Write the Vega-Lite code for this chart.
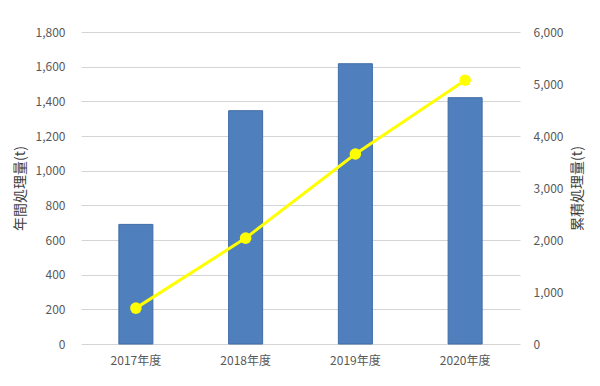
{
  "$schema": "https://vega.github.io/schema/vega-lite/v6.json",
  "autosize": {"type": "none"},
  "width": 439,
  "height": 312,
  "padding": {"left": 81, "top": 32, "right": 80, "bottom": 42},
  "background": "white",
  "data": {
    "values": [
      {"year": "2017年度", "annual": 690, "cumulative": 690},
      {"year": "2018年度", "annual": 1346, "cumulative": 2036},
      {"year": "2019年度", "annual": 1617, "cumulative": 3653},
      {"year": "2020年度", "annual": 1421, "cumulative": 5074}
    ]
  },
  "encoding": {
    "x": {
      "field": "year",
      "type": "nominal",
      "sort": null,
      "scale": {"paddingInner": 0.69, "paddingOuter": 0.345},
      "axis": {
        "title": null,
        "labelAngle": 0,
        "domain": false,
        "ticks": false,
        "labelPadding": 11,
        "labelFontSize": 12,
        "labelColor": "#595959",
        "labelFont": "Noto Sans CJK JP"
      }
    }
  },
  "layer": [
    {
      "mark": {"type": "bar", "color": "#4F7FBC", "stroke": "#3F6DA6", "strokeWidth": 1},
      "encoding": {
        "y": {
          "field": "annual",
          "type": "quantitative",
          "scale": {"domain": [0, 1800], "nice": false},
          "axis": {
            "title": "年間処理量(t)",
            "orient": "left",
            "values": [0, 200, 400, 600, 800, 1000, 1200, 1400, 1600, 1800],
            "format": ",d",
            "domain": false,
            "ticks": false,
            "grid": true,
            "gridColor": "#D4D4D4",
            "gridWidth": 1,
            "labelPadding": 16,
            "labelFontSize": 12,
            "labelColor": "#595959",
            "labelFont": "Noto Sans CJK JP",
            "titleFont": "Noto Sans CJK JP",
            "titleFontSize": 14,
            "titleFontWeight": "normal",
            "titleColor": "#404040",
            "titlePadding": 8
          }
        }
      }
    },
    {
      "mark": {
        "type": "line",
        "color": "#FFFF00",
        "strokeWidth": 3,
        "point": {"filled": true, "size": 133, "color": "#FFFF00", "opacity": 1}
      },
      "encoding": {
        "y": {
          "field": "cumulative",
          "type": "quantitative",
          "scale": {"domain": [0, 6000], "nice": false},
          "axis": {
            "title": "累積処理量(t)",
            "orient": "right",
            "values": [0, 1000, 2000, 3000, 4000, 5000, 6000],
            "format": ",d",
            "domain": false,
            "ticks": false,
            "grid": false,
            "labelPadding": 13,
            "labelFontSize": 12,
            "labelColor": "#595959",
            "labelFont": "Noto Sans CJK JP",
            "titleFont": "Noto Sans CJK JP",
            "titleFontSize": 14,
            "titleFontWeight": "normal",
            "titleColor": "#404040",
            "titleAngle": 270,
            "titleBaseline": "top",
            "titlePadding": 8
          }
        }
      }
    }
  ],
  "resolve": {"scale": {"y": "independent"}},
  "config": {"view": {"stroke": null}}
}
